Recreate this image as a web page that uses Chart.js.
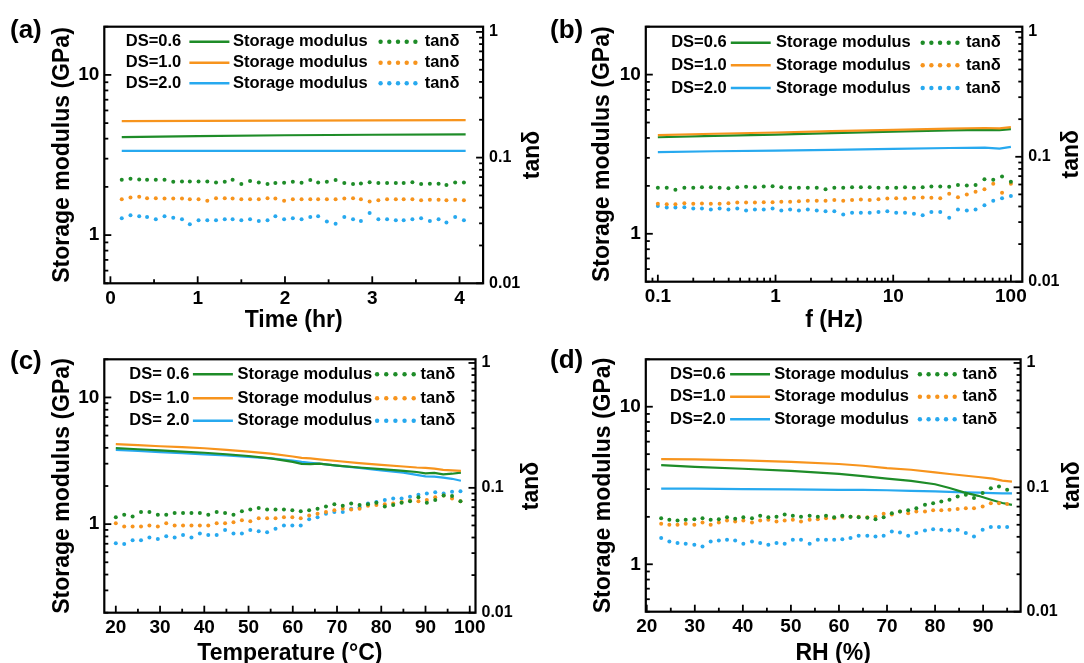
<!DOCTYPE html>
<html>
<head>
<meta charset="utf-8">
<title>Storage modulus and tan delta</title>
<script src="https://cdn.jsdelivr.net/npm/chart.js@4.4.1/dist/chart.umd.min.js"></script>
<style>
  html, body { margin: 0; padding: 0; background: #fff; }
  #wrap { position: relative; width: 1084px; height: 663px; overflow: hidden; background: #fff; }
  canvas { position: absolute; }
</style>
</head>
<body>
<div id="wrap">
  <canvas id="pa" width="545" height="336" style="left:0;top:0;width:545px;height:336px"></canvas>
  <canvas id="pb" width="544" height="336" style="left:540px;top:0;width:544px;height:336px"></canvas>
  <canvas id="pc" width="545" height="333" style="left:0;top:330px;width:545px;height:333px"></canvas>
  <canvas id="pd" width="544" height="333" style="left:540px;top:330px;width:544px;height:333px"></canvas>
</div>
<script>
// ---------- data ----------
const dsNames  = ['DS=0.6', 'DS=1.0', 'DS=2.0'];
const dsNamesC = ['DS= 0.6', 'DS= 1.0', 'DS= 2.0'];

// (a) time sweep
const timeHr = [0.13,0.23,0.33,0.42,0.52,0.62,0.72,0.82,0.91,1.01,1.11,1.21,1.31,1.40,1.50,1.60,1.70,1.80,1.89,1.99,
  2.09,2.19,2.29,2.38,2.48,2.58,2.68,2.78,2.87,2.97,3.07,3.17,3.27,3.36,3.46,3.56,3.66,3.76,3.85,3.95,4.05];
const aModX = [0.13, 1, 2, 3, 4.07];
const aModG = [4.09, 4.15, 4.2, 4.23, 4.25];
const aModO = [5.14, 5.17, 5.19, 5.2, 5.22];
const aModB = [3.36, 3.36, 3.36, 3.36, 3.36];
const aTanG = [0.0667,0.0679,0.0671,0.0667,0.0667,0.0667,0.0642,0.0646,0.0646,0.0646,
  0.0646,0.0635,0.0642,0.0667,0.0616,0.065,0.0635,0.0616,0.0627,0.063,
  0.0642,0.063,0.0663,0.0635,0.0642,0.0663,0.0627,0.0616,0.0623,0.0638,
  0.0627,0.0627,0.0627,0.0627,0.0638,0.0616,0.062,0.062,0.0605,0.0635,0.0635];
const aTanO = [0.0467,0.0482,0.0488,0.0476,0.0476,0.0473,0.0473,0.0473,0.0467,0.0467,
  0.0453,0.0476,0.0476,0.0473,0.0467,0.0467,0.0467,0.0476,0.0473,0.0453,
  0.0467,0.0467,0.0467,0.0467,0.0467,0.0467,0.0473,0.0476,0.0467,0.0448,
  0.0458,0.0467,0.0467,0.0467,0.0467,0.0458,0.0462,0.0462,0.0458,0.0462,0.0458];
const aTanB = [0.0329,0.0348,0.0341,0.0337,0.0323,0.0341,0.0333,0.0323,0.0295,0.0317,
  0.0317,0.0317,0.0323,0.0323,0.0317,0.0323,0.0313,0.0317,0.0341,0.0323,
  0.0329,0.0323,0.0337,0.0341,0.031,0.0298,0.0337,0.0323,0.0313,0.0363,
  0.0323,0.0323,0.0317,0.0317,0.0323,0.0329,0.0313,0.0323,0.0304,0.0337,0.0317];

// (b) frequency sweep
const freqHz = [0.1,0.119,0.141,0.168,0.2,0.237,0.282,0.335,0.398,0.473,0.562,0.668,0.794,0.944,1.12,1.33,1.58,1.88,2.24,2.66,
  3.16,3.76,4.47,5.31,6.31,7.5,8.91,10.6,12.6,15,17.8,21.1,25.1,29.9,35.5,42.2,50.1,59.6,70.8,84.1,100];
const bModX = [0.1, 0.3, 1, 3, 10, 30, 60, 80, 100];
const bModG = [4.04, 4.12, 4.2, 4.29, 4.38, 4.46, 4.5, 4.48, 4.55];
const bModO = [4.17, 4.25, 4.33, 4.42, 4.5, 4.58, 4.62, 4.6, 4.68];
const bModB = [3.26, 3.3, 3.33, 3.37, 3.42, 3.46, 3.48, 3.43, 3.52];
const bTanG = [0.0565,0.0565,0.0545,0.0565,0.0565,0.057,0.057,0.0565,0.056,0.057,
  0.0575,0.057,0.0577,0.058,0.057,0.0565,0.0565,0.0565,0.0565,0.055,
  0.0565,0.0565,0.057,0.057,0.057,0.0565,0.0565,0.0565,0.057,0.0565,
  0.057,0.0577,0.0577,0.0575,0.0595,0.059,0.0595,0.066,0.0655,0.0695,0.063];
const bTanO = [0.042,0.0417,0.0417,0.0425,0.042,0.0422,0.042,0.042,0.0425,0.043,
  0.043,0.043,0.0433,0.0433,0.0436,0.0436,0.044,0.0445,0.0445,0.0445,
  0.045,0.0445,0.045,0.0456,0.045,0.0458,0.0464,0.0466,0.0464,0.047,
  0.0473,0.047,0.0466,0.0505,0.0475,0.0499,0.0525,0.055,0.0609,0.0516,0.0609];
const bTanB = [0.0403,0.0392,0.0392,0.0395,0.0386,0.0386,0.0379,0.0386,0.0379,0.0386,
  0.0372,0.0379,0.0379,0.0386,0.0372,0.0379,0.0372,0.0379,0.0372,0.0367,
  0.0367,0.0345,0.0356,0.0356,0.0356,0.0362,0.0367,0.0356,0.0356,0.035,
  0.0341,0.0362,0.0362,0.0325,0.0379,0.0372,0.0379,0.041,0.0445,0.0465,0.0485];

// (c) temperature sweep
const tempC = [20,21.9,23.8,25.7,27.6,29.5,31.4,33.3,35.2,37.1,39,40.9,42.8,44.7,46.6,48.5,50.4,52.3,54.2,56.1,
  58,59.9,61.8,63.7,65.6,67.5,69.4,71.3,73.2,75.1,77,78.9,80.8,82.7,84.6,86.5,88.4,90.3,92.2,94.1,96,97.9];
const cModX = [20,25,30,35,40,45,50,55,60,62,64,66,70,75,80,85,88,90,92,94,96,98];
const cModG = [3.98,3.9,3.82,3.74,3.66,3.56,3.45,3.3,3.1,2.99,2.98,3.0,2.9,2.8,2.72,2.63,2.58,2.52,2.54,2.47,2.5,2.55];
const cModO = [4.28,4.2,4.12,4.05,3.97,3.86,3.74,3.6,3.42,3.33,3.3,3.25,3.15,3.03,2.94,2.85,2.8,2.78,2.74,2.68,2.66,2.63];
const cModB = [3.85,3.78,3.7,3.63,3.55,3.48,3.4,3.3,3.18,3.1,3.05,3.0,2.9,2.78,2.66,2.55,2.45,2.38,2.37,2.33,2.28,2.2];
const cTanG = [0.058,0.061,0.059,0.064,0.064,0.061,0.061,0.063,0.063,0.063,
  0.063,0.061,0.064,0.063,0.061,0.065,0.067,0.069,0.067,0.067,
  0.067,0.066,0.065,0.066,0.068,0.071,0.074,0.072,0.075,0.073,
  0.074,0.076,0.071,0.073,0.076,0.078,0.084,0.076,0.080,0.087,0.086,0.078];
const cTanO = [0.052,0.049,0.049,0.049,0.050,0.049,0.052,0.050,0.050,0.050,
  0.050,0.050,0.052,0.052,0.053,0.055,0.054,0.057,0.057,0.057,
  0.058,0.058,0.057,0.060,0.062,0.064,0.066,0.068,0.067,0.068,
  0.072,0.073,0.074,0.075,0.077,0.079,0.078,0.080,0.084,0.087,0.082,0.078];
const cTanB = [0.036,0.0355,0.038,0.038,0.040,0.039,0.041,0.040,0.042,0.040,
  0.043,0.042,0.042,0.046,0.043,0.043,0.046,0.045,0.044,0.047,
  0.050,0.050,0.050,0.056,0.058,0.062,0.064,0.064,0.068,0.070,
  0.075,0.077,0.080,0.082,0.082,0.085,0.088,0.090,0.092,0.090,0.093,0.094];

// (d) humidity sweep
const rhPct = [23,24.7,26.4,28.1,29.9,31.6,33.3,35,36.7,38.4,40.1,41.9,43.6,45.3,47,48.7,50.4,52.1,53.9,55.6,
  57.3,59,60.7,62.4,64.1,65.9,67.6,69.3,71,72.7,74.4,76.1,77.9,79.6,81.3,83,84.7,86.4,88.1,89.9,91.6,93.3,95];
const dModX = [23,30,40,50,60,65,70,75,80,83,86,89,92,94,96];
const dModG = [4.26,4.15,4.04,3.92,3.75,3.63,3.5,3.38,3.22,3.05,2.86,2.72,2.55,2.45,2.38];
const dModO = [4.65,4.63,4.56,4.47,4.33,4.22,4.08,3.98,3.83,3.74,3.66,3.58,3.5,3.4,3.35];
const dModB = [3.02,3.02,3.0,2.99,2.97,2.97,2.95,2.92,2.9,2.88,2.86,2.85,2.83,2.82,2.82];
const dTanG = [0.0565,0.0548,0.0542,0.0548,0.0555,0.0565,0.0548,0.0555,0.0575,0.056,
  0.0575,0.0565,0.059,0.0575,0.058,0.0604,0.059,0.058,0.059,0.058,
  0.059,0.0575,0.059,0.058,0.0575,0.057,0.0555,0.0575,0.062,0.064,
  0.0654,0.068,0.0723,0.0746,0.077,0.0794,0.0844,0.087,0.0819,0.09,0.0985,0.1016,0.0955];
const dTanO = [0.0509,0.05,0.05,0.0509,0.05,0.0522,0.05,0.0522,0.0541,0.0532,
  0.0541,0.0522,0.0541,0.0548,0.0532,0.0541,0.0548,0.0532,0.0548,0.0555,
  0.0565,0.0565,0.058,0.058,0.058,0.0575,0.058,0.0613,0.0604,0.064,
  0.062,0.064,0.064,0.0654,0.0654,0.066,0.067,0.068,0.068,0.0701,0.0746,0.0746,0.0736];
const dTanB = [0.0391,0.0367,0.0356,0.0352,0.0345,0.0335,0.0367,0.0374,0.0379,0.0374,
  0.0352,0.0367,0.0356,0.0345,0.0356,0.0352,0.0379,0.0379,0.0352,0.0379,
  0.0379,0.0379,0.0383,0.0391,0.0408,0.0408,0.0403,0.0408,0.0442,0.0434,
  0.0408,0.0429,0.045,0.0461,0.0456,0.045,0.0456,0.0429,0.0403,0.0456,0.0479,0.0479,0.0479];

// ---------- styling ----------
const FONT = '"Liberation Sans", Arial, Helvetica, sans-serif';
const colors = ['#1e8c28', '#f7941d', '#27a9ef'];   // DS 0.6 / 1.0 / 2.0
const lineOrder = [2, 1, 3];                          // orange line on top of green

const pairs = (xs, ys) => xs.map((x, i) => ({x: x, y: ys[i]}));

function isDecade(v) {
  const e = Math.log10(v);
  return Math.abs(e - Math.round(e)) < 1e-9;
}
function onLogGrid(v) {
  const sig = v / Math.pow(10, Math.floor(Math.log10(v) + 1e-9));
  return Math.abs(sig - Math.round(sig)) < 1e-6;
}

// box, inward ticks, legend, right title, panel tag
const framePlugin = {
  id: 'frame',
  afterDraw(chart, args, o) {
    const ctx = chart.ctx, a = chart.chartArea;
    const ox = o.ox, oy = o.oy;
    ctx.save();
    ctx.strokeStyle = '#000';
    ctx.lineWidth = 1.8;
    const marks = (scale, side) => {
      scale.ticks.forEach(t => {
        if (scale.type === 'logarithmic' && !onLogGrid(t.value)) return;
        const len = t.label ? 7 : 4;
        const p = scale.getPixelForValue(t.value);
        ctx.beginPath();
        if (side === 'bottom') { ctx.moveTo(p, a.bottom); ctx.lineTo(p, a.bottom - len); }
        else if (side === 'left') { ctx.moveTo(a.left, p); ctx.lineTo(a.left + len, p); }
        else { ctx.moveTo(a.right, p); ctx.lineTo(a.right - len, p); }
        ctx.stroke();
      });
    };
    marks(chart.scales.x, 'bottom');
    marks(chart.scales.y, 'left');
    marks(chart.scales.y2, 'right');
    ctx.lineWidth = 2.2;
    ctx.strokeRect(a.left, a.top, a.right - a.left, a.bottom - a.top);

    // legend
    const L = o.leg;
    ctx.fillStyle = '#000';
    ctx.font = 'bold 16.5px ' + FONT;
    ctx.textBaseline = 'middle';
    ctx.textAlign = 'left';
    L.rows.forEach((ry, k) => {
      const y = ry - oy;
      ctx.fillStyle = '#000';
      ctx.fillText(o.names[k], L.ds - ox, y);
      ctx.fillText('Storage modulus', L.sm - ox, y);
      ctx.fillText('tanδ', L.tan - ox, y);
      ctx.strokeStyle = colors[k];
      ctx.lineWidth = 2.4;
      ctx.beginPath();
      ctx.moveTo(L.l0 - ox, y);
      ctx.lineTo(L.l1 - ox, y);
      ctx.stroke();
      ctx.fillStyle = colors[k];
      for (let i = 0; i < 5; i++) {
        const x = L.d0 + (L.d1 - L.d0) * i / 4 - ox;
        ctx.beginPath();
        ctx.arc(x, y, 2.2, 0, Math.PI * 2);
        ctx.fill();
      }
    });

    // right axis title, reading bottom to top
    ctx.fillStyle = '#000';
    ctx.save();
    ctx.translate(o.rightTitleX - ox, (a.top + a.bottom) / 2);
    ctx.rotate(-Math.PI / 2);
    ctx.font = 'bold 23px ' + FONT;
    ctx.textAlign = 'center';
    ctx.textBaseline = 'middle';
    ctx.fillText('tanδ', 0, 0);
    ctx.restore();

    // panel tag
    ctx.font = 'bold 26px ' + FONT;
    ctx.textAlign = 'left';
    ctx.textBaseline = 'alphabetic';
    ctx.fillText(o.tag, o.tagX - ox, o.tagY - oy);
    ctx.restore();
  }
};

// page coordinates of each panel
const panels = [
  { id: 'pa', tag: '(a)', tagX: 10, tagY: 37.5,
    canvas: {left: 0, top: 0, w: 545, h: 336}, box: {l: 104.3, r: 483.1, t: 26.7, b: 283.3},
    xType: 'linear', xMin: -0.07, xMax: 4.27, xStep: 0.5, xMajor: 1, xTitle: 'Time (hr)',
    yMin: 0.5, yMax: 20, y2Min: 0.01, y2Max: 1.1, xTitlePad: 1.5, yTitlePad: 49, rightTitleX: 533,
    modX: aModX, mod: [aModG, aModO, aModB], tanX: timeHr, tan: [aTanG, aTanO, aTanB], names: dsNames,
    leg: {ds: 125.8, l0: 189.4, l1: 229.4, sm: 232.9, d0: 380.6, d1: 415.4, tan: 424.7, rows: [41.7, 62.7, 83.3]} },
  { id: 'pb', tag: '(b)', tagX: 550, tagY: 37.5,
    canvas: {left: 540, top: 0, w: 544, h: 336}, box: {l: 645.8, r: 1022.3, t: 26.7, b: 281.7},
    xType: 'logarithmic', xMin: 0.079, xMax: 125, xStep: null, xMajor: null, xTitle: 'f (Hz)',
    yMin: 0.5, yMax: 20, y2Min: 0.01, y2Max: 1.1, xTitlePad: 1.5, yTitlePad: 49, rightTitleX: 1072,
    modX: bModX, mod: [bModG, bModO, bModB], tanX: freqHz, tan: [bTanG, bTanO, bTanB], names: dsNames,
    leg: {ds: 671.2, l0: 730.8, l1: 770.7, sm: 776, d0: 922.7, d1: 957.4, tan: 966, rows: [42.7, 65.3, 88]} },
  { id: 'pc', tag: '(c)', tagX: 10, tagY: 369,
    canvas: {left: 0, top: 330, w: 545, h: 333}, box: {l: 104.3, r: 475.5, t: 359.3, b: 612.7},
    xType: 'linear', xMin: 17.4, xMax: 101.3, xStep: 5, xMajor: 10, xTitle: 'Temperature (°C)',
    yMin: 0.2, yMax: 20, y2Min: 0.01, y2Max: 1.07, xTitlePad: -4.5, yTitlePad: 49, rightTitleX: 532,
    modX: cModX, mod: [cModG, cModO, cModB], tanX: tempC, tan: [cTanG, cTanO, cTanB], names: dsNamesC,
    leg: {ds: 129.3, l0: 192.9, l1: 232.9, sm: 237.4, d0: 377.1, d1: 413.7, tan: 420.6, rows: [374.3, 398.3, 420.7]} },
  { id: 'pd', tag: '(d)', tagX: 550, tagY: 367.5,
    canvas: {left: 540, top: 330, w: 544, h: 333}, box: {l: 645.8, r: 1020.6, t: 359.3, b: 611.7},
    xType: 'linear', xMin: 19.8, xMax: 97.8, xStep: 5, xMajor: 10, xTitle: 'RH (%)',
    yMin: 0.5, yMax: 20, y2Min: 0.01, y2Max: 1.07, xTitlePad: -4.5, yTitlePad: 50, rightTitleX: 1072.5,
    modX: dModX, mod: [dModG, dModO, dModB], tanX: rhPct, tan: [dTanG, dTanO, dTanB], names: dsNames,
    leg: {ds: 670.1, l0: 730.1, l1: 770, sm: 774.2, d0: 919.9, d1: 954.7, tan: 962.6, rows: [374.3, 396.7, 419.3]} }
];

function logLabel(v) { return isDecade(v) ? String(v) : ''; }

panels.forEach(p => {
  const c = p.canvas, b = p.box;
  const datasets = [];
  p.tan.forEach((ys, k) => datasets.push({
    data: pairs(p.tanX, ys), yAxisID: 'y2', showLine: false, order: 0,
    pointRadius: 2, pointHoverRadius: 2, pointBackgroundColor: colors[k], pointBorderWidth: 0
  }));
  p.mod.forEach((ys, k) => datasets.push({
    data: pairs(p.modX, ys), yAxisID: 'y', showLine: true, order: lineOrder[k],
    borderColor: colors[k], borderWidth: 2.2, pointRadius: 0, pointHoverRadius: 0, fill: false, tension: 0
  }));

  const tickFont = {family: FONT, size: 19, weight: 'bold'};
  const titleFont = {family: FONT, size: 23, weight: 'bold'};

  new Chart(document.getElementById(p.id), {
    type: 'scatter',
    data: {datasets: datasets},
    options: {
      responsive: false,
      animation: false,
      events: [],
      layout: {padding: {top: b.t - c.top, left: 0, right: 0, bottom: 0}},
      plugins: {
        legend: {display: false},
        tooltip: {enabled: false},
        frame: {ox: c.left, oy: c.top, leg: p.leg, names: p.names, tag: p.tag, tagX: p.tagX, tagY: p.tagY,
                rightTitleX: p.rightTitleX}
      },
      scales: {
        x: {
          type: p.xType, position: 'bottom', min: p.xMin, max: p.xMax,
          grid: {display: false, drawTicks: false}, border: {display: false},
          ticks: {
            autoSkip: false, maxRotation: 0, minRotation: 0, includeBounds: false,
            stepSize: p.xStep || undefined, padding: 4, color: '#000', font: tickFont,
            callback: v => p.xType === 'logarithmic' ? logLabel(v)
              : (Math.abs(v / p.xMajor - Math.round(v / p.xMajor)) < 1e-9 ? String(Math.round(v)) : '')
          },
          title: {display: true, text: p.xTitle, color: '#000', font: titleFont, padding: {top: 0, bottom: p.xTitlePad}},
          afterFit: s => { s.height = c.top + c.h - b.b; }
        },
        y: {
          type: 'logarithmic', position: 'left', min: p.yMin, max: p.yMax,
          grid: {display: false, drawTicks: false}, border: {display: false},
          ticks: {autoSkip: false, padding: 5, color: '#000', font: tickFont, callback: logLabel},
          title: {display: true, text: 'Storage modulus (GPa)', color: '#000', font: titleFont,
                  padding: {top: p.yTitlePad, bottom: 0}},
          afterFit: s => { s.width = b.l - c.left; }
        },
        y2: {
          type: 'logarithmic', position: 'right', min: p.y2Min, max: p.y2Max,
          grid: {display: false, drawTicks: false}, border: {display: false},
          ticks: {autoSkip: false, padding: 6, color: '#000', font: {family: FONT, size: 16, weight: 'bold'},
                  callback: logLabel},
          title: {display: false},
          afterFit: s => { s.width = c.left + c.w - b.r; }
        }
      }
    },
    plugins: [framePlugin]
  });
});
</script>
</body>
</html>
